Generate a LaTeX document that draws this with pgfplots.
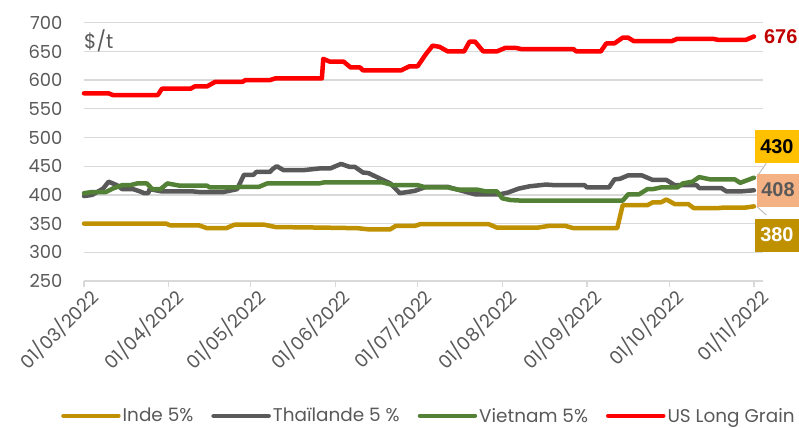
\documentclass[border=0pt]{standalone}
\usepackage{pgfplots}
\pgfplotsset{compat=1.18}
\usepackage{fontspec}
\setmainfont{Poppins}
\newfontfamily\labfont{Liberation Sans}
\definecolor{cInde}{HTML}{BF9000}
\definecolor{cThai}{HTML}{595959}
\definecolor{cViet}{HTML}{538135}
\definecolor{cUS}{HTML}{FF0000}
\definecolor{cGrid}{HTML}{D9D9D9}
\definecolor{cTxt}{HTML}{595959}
\definecolor{cBoxV}{HTML}{FFC000}
\definecolor{cBoxT}{HTML}{F4B183}
\definecolor{cRed}{HTML}{C00000}
\begin{document}
\begin{tikzpicture}
\begin{axis}[
  at={(0,0)}, anchor=south west,
  scale only axis, width=679bp, height=258.3bp,
  xmin=0, xmax=248.3, ymin=250, ymax=700,
  ytick={250,300,...,700},
  xtick={0,31,61,92,122,153,184,214,245},
  xticklabels={01/03/2022,01/04/2022,01/05/2022,01/06/2022,01/07/2022,01/08/2022,01/09/2022,01/10/2022,01/11/2022},
  /pgf/number format/assume math mode=true,
  axis line style={draw=none},
  ymajorgrids, grid style={cGrid, line width=1.3bp},
  ytick style={draw=none},
  xtick style={cGrid, line width=1.3bp},
  xtick pos=bottom, tick align=outside, major tick length=6bp,
  x tick label style={rotate=45, anchor=north east, font=\fontsize{18.5}{20}\selectfont, text=cTxt, inner sep=1bp, xshift=4bp, yshift=-1bp},
  y tick label style={font=\fontsize{18}{20}\selectfont, text=cTxt, xshift=-12bp},
  clip=false,
  every axis plot/.append style={line width=4.5bp, line join=round, line cap=round},
  legend columns=4,
  legend style={at={(0.508,-0.522)}, anchor=center, draw=none, fill=none,
    font=\fontsize{18.5}{20}\selectfont, text=cTxt, inner sep=0pt,
    /tikz/every even column/.append style={column sep=16bp}},
  legend image code/.code={\draw[#1, line width=4.5bp, line cap=round] (0bp,0bp) -- (55bp,0bp);},
]
% Inde 5%
\addplot[cInde] coordinates {
(0,350)(30,350)(31.5,347)(42,347)(45,342)(52,342)(55,348)(66,348)(70,344)(87,343)(100,342)(104,340)(112,340)(114,346)(121,346)(123,349)(148,349)(151,343)(166,343)(170,346)(176,346)(179,342)(195,342)(197,382)(206,382)(208,387)(211,387)(213,392)(216,384)(221,384)(223,377)(232,377)(234,378)(242,378)(245,380)};
\addlegendentry{Inde 5\%}
% Thailande 5 %
\addplot[cThai] coordinates {
(0,398)(3,400)(7,411)(9,423)(12,417)(14,410)(18,410)(20.5,406)(22,403)(23.5,403)(24,410)(28.5,406)(40,406)(42,405)(51,405)(56,410)(58.5,435)(62,435)(63,440)(68,440)(69,445)(70.5,450)(73,443)(80,443)(86,446)(90,446)(94,454)(97,449)(99,449)(102,439)(104,438)(108,429)(112,420)(115.5,403)(121,407)(125,414)(133,414)(136,410)(143,401)(152,401)(155,404)(159,411)(163,415)(169,418)(172,417)(183,417)(184,413)(192,413)(194,427)(196,428)(199,434)(204,434)(208,426)(213,426)(216,417)(224,417)(225,412)(233,412)(235,406)(240,406)(245,408)};
\addlegendentry{Thaïlande 5 \%}
% Vietnam 5%
\addplot[cViet] coordinates {
(0,403)(3,405)(8,405)(10.5,411)(14,417)(17,417)(19.5,420)(23,420)(25,410)(28,410)(30.5,420)(35,416)(45,416)(46,413)(56,413)(57,414)(64,414)(67,420)(86,420)(88,422)(109,422)(113,417)(122,417)(125,413)(133,413)(137,409)(144,409)(147,406)(151,406)(153,394)(156,391)(160,390)(197,390)(199,401)(203,401)(206,410)(208,410)(211,413)(217,413)(219,420)(222.5,423)(225,431)(229,427)(238,427)(240,421)(245,430)};
\addlegendentry{Vietnam 5\%}
% US Long Grain
\addplot[cUS] coordinates {
(0,577)(9,577)(10.5,574)(27,574)(28.5,585)(39,585)(40.5,589)(45,589)(48,597)(58,597)(59,600)(68,600)(70,603)(87,603)(87.5,637)(90,632)(95,632)(97.5,622)(101,622)(102,617)(116,617)(119,624)(122,624)(125,645)(127.5,660)(130,658)(133,650)(139,650)(141,667)(143,667)(146,650)(151,650)(154,656)(158,656)(160,654)(179,654)(180,650)(189,650)(191,664)(194,664)(197,674)(199,674)(201,668)(215,668)(217,672)(230,672)(232,670)(242,670)(245,676)};
\addlegendentry{US Long Grain}
% annotations
\node[anchor=north west, text=cTxt, font=\fontsize{20}{22}\selectfont, inner sep=0pt] at (axis description cs:0,0.975) {\$/t};
\node[anchor=west, text=cRed, font=\labfont\bfseries\fontsize{20}{22}\selectfont, inner sep=1bp] at (axis cs:248.3,676) {676};
\draw[cGrid!70!gray, line width=1bp] (axis cs:246,431) -- (axis cs:249.5,455);
\draw[cGrid!70!gray, line width=1bp] (axis cs:246,380) -- (axis cs:249.5,365);
\node[fill=cBoxV, text=black, font=\labfont\bfseries\fontsize{20}{22}\selectfont, minimum width=44bp, minimum height=33bp, inner sep=0pt] at (axis cs:253.4,484) {430};
\node[fill=cBoxT, text=cTxt, font=\labfont\bfseries\fontsize{20}{22}\selectfont, minimum width=42bp, minimum height=33bp, inner sep=0pt] at (axis cs:253.8,408.5) {408};
\node[fill=cInde, text=white, font=\labfont\bfseries\fontsize{20}{22}\selectfont, minimum width=44bp, minimum height=33bp, inner sep=0pt] at (axis cs:253.4,330) {380};
\end{axis}
\path[use as bounding box] (-84bp,-147bp) rectangle (715bp,281bp);
\end{tikzpicture}
\end{document}
